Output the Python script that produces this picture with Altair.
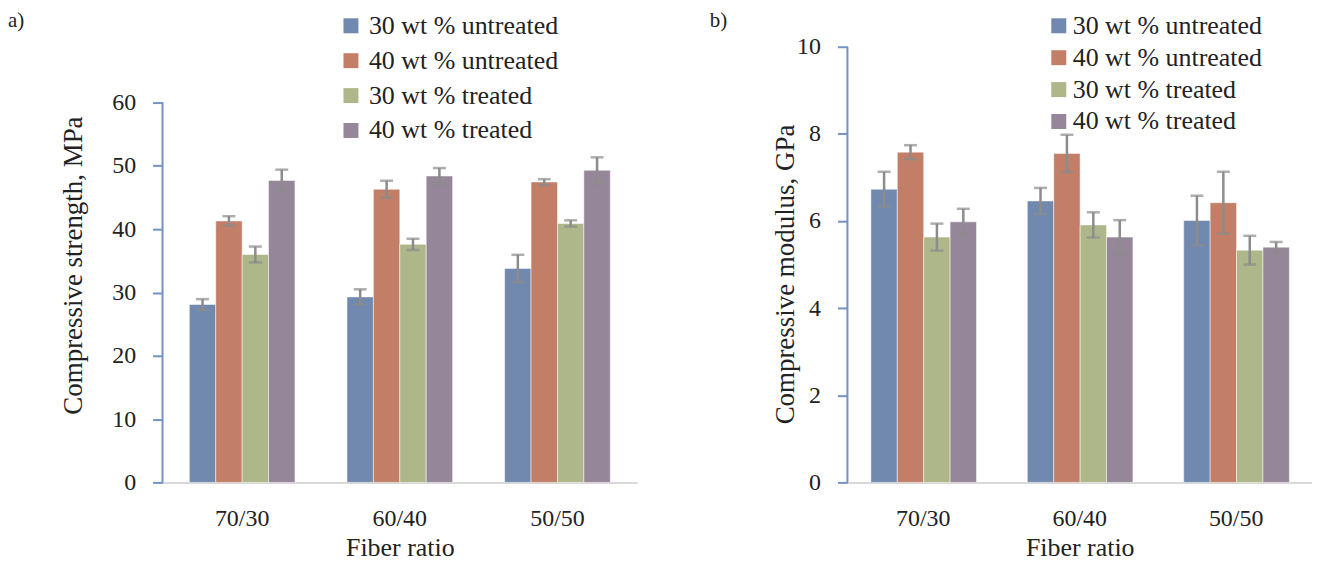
import altair as alt
import pandas as pd

# ---------------- data ----------------
ratios = ["70/30", "60/40", "50/50"]
series = ["30 wt % untreated", "40 wt % untreated", "30 wt % treated", "40 wt % treated"]
colors = ["#7189ae", "#c27e66", "#adb78a", "#958699"]

# a) compressive strength, MPa (mean, error)
strength_30u = [28.1, 29.3, 33.8]
strength_30u_err = [0.85, 1.2, 2.15]
strength_40u = [41.3, 46.3, 47.45]
strength_40u_err = [0.75, 1.35, 0.45]
strength_30t = [36.0, 37.6, 40.9]
strength_30t_err = [1.25, 0.9, 0.5]
strength_40t = [47.7, 48.4, 49.3]
strength_40t_err = [1.7, 1.25, 2.05]

# b) compressive modulus, GPa (mean, error)
modulus_30u = [6.73, 6.46, 6.01]
modulus_30u_err = [0.4, 0.3, 0.57]
modulus_40u = [7.58, 7.55, 6.42]
modulus_40u_err = [0.16, 0.43, 0.71]
modulus_30t = [5.63, 5.91, 5.33]
modulus_30t_err = [0.31, 0.29, 0.33]
modulus_40t = [5.98, 5.63, 5.40]
modulus_40t_err = [0.3, 0.39, 0.12]

strength_ticks = [0, 10, 20, 30, 40, 50, 60]
modulus_ticks = [0, 2, 4, 6, 8, 10]


def make_df(vals, errs):
    rows = []
    for s, v, e in zip(series, vals, errs):
        for r, vv, ee in zip(ratios, v, e):
            rows.append({"ratio": r, "series": s, "value": vv, "lo": vv - ee, "hi": vv + ee})
    return pd.DataFrame(rows)


df_a = make_df([strength_30u, strength_40u, strength_30t, strength_40t],
               [strength_30u_err, strength_40u_err, strength_30t_err, strength_40t_err])
df_b = make_df([modulus_30u, modulus_40u, modulus_30t, modulus_40t],
               [modulus_30u_err, modulus_40u_err, modulus_30t_err, modulus_40t_err])

FONT = "Liberation Serif"
TEXT = "#222222"
AXIS_BLUE = "#7393c4"
BASE_GRAY = "#d9d9d9"
ERR_GRAY = "#8c8c8c"
H = 437


def panel(df, ytitle, ymax, yticks, width, pad_outer, legend_x, row_pad, label_off,
          title_text, title_dx, title_x, title_y):
    x = alt.X("ratio:N", sort=ratios, title="Fiber ratio",
              scale=alt.Scale(paddingInner=0.33, paddingOuter=pad_outer),
              axis=alt.Axis(labelAngle=0, domainColor=BASE_GRAY, domainWidth=2, ticks=False,
                            labelPadding=24, labelFontSize=24, titleFontSize=26,
                            labelFont=FONT, titleFont=FONT, labelColor=TEXT, titleColor=TEXT,
                            titleFontWeight="normal", titleY=73, titleBaseline="alphabetic"))
    xo = alt.XOffset("series:N", sort=series, scale=alt.Scale(paddingInner=0, paddingOuter=0))
    y = alt.Y("value:Q", scale=alt.Scale(domain=[0, ymax], nice=False, zero=True),
              axis=alt.Axis(values=yticks, domain=False, grid=False, tickColor=AXIS_BLUE,
                            tickSize=10, tickWidth=2, labelPadding=17, labelFontSize=24,
                            labelFont=FONT, labelColor=TEXT, title=ytitle, titleFont=FONT,
                            titleFontSize=27, titleColor=TEXT, titleFontWeight="normal",
                            titleAngle=270, titleAlign="center", titleBaseline="middle",
                            titleX=title_x, titleY=title_y))
    color = alt.Color("series:N", scale=alt.Scale(domain=series, range=colors),
                      legend=alt.Legend(orient="none", legendX=legend_x, legendY=-34, title=None,
                                        symbolType="square", symbolSize=225, symbolStrokeWidth=0,
                                        labelFontSize=26, labelFont=FONT, labelColor=TEXT,
                                        rowPadding=row_pad, labelOffset=label_off, padding=0,
                                        labelLimit=400))
    base = alt.Chart(df)
    bars = base.mark_bar(stroke="white", strokeWidth=0.5).encode(x=x, xOffset=xo, y=y, color=color)
    err = base.mark_rule(color=ERR_GRAY, strokeWidth=2.5).encode(
        x=x, xOffset=xo, y=alt.Y("lo:Q"), y2="hi:Q")
    cap_hi = base.mark_tick(color=ERR_GRAY, size=13, thickness=2.5, orient="horizontal").encode(
        x=x, xOffset=xo, y=alt.Y("hi:Q"))
    cap_lo = base.mark_tick(color=ERR_GRAY, size=13, thickness=2.5, orient="horizontal").encode(
        x=x, xOffset=xo, y=alt.Y("lo:Q"))
    axis_line = alt.Chart(pd.DataFrame({"a": [0]})).mark_rule(
        color=AXIS_BLUE, strokeWidth=2).encode(
        x=alt.value(0), y=alt.datum(yticks[0]), y2=alt.datum(yticks[-1]))
    return alt.layer(bars, err, cap_hi, cap_lo, axis_line).properties(
        width=width, height=H,
        title=alt.TitleParams(title_text, anchor="start", frame="group", dx=title_dx, dy=36,
                              fontSize=21, font=FONT, fontWeight="normal", color=TEXT,
                              offset=18))


left = panel(df_a, "Compressive strength, MPa", 60 * H / 381, strength_ticks, 476, 0.17,
             176, 9, 5, "a)", -155, -89, 219)
right = panel(df_b, "Compressive modulus, GPa", 10, modulus_ticks, 466, 0.15,
              199, 6, 1, "b)", -138, -62, 228)

chart = alt.hconcat(left, right, spacing=73).resolve_scale(
    x="independent", y="independent").resolve_legend(color="independent").properties(
    padding={"top": 1, "left": 0, "right": 0, "bottom": 0}).configure_view(stroke=None)

chart.save("out.html", embed_options={"renderer": "svg", "actions": False})
